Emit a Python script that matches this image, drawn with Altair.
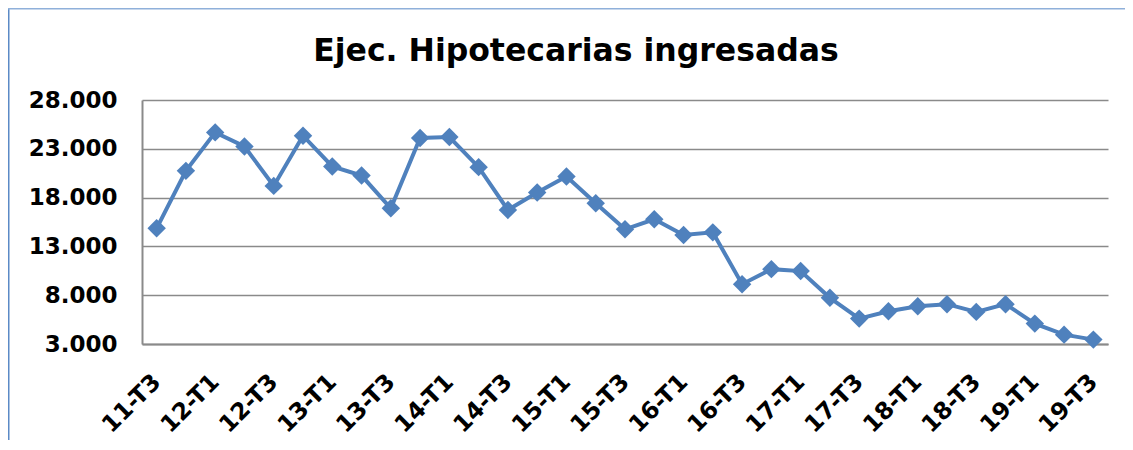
import altair as alt
import pandas as pd

periods = [
    "11-T3", "11-T4",
    "12-T1", "12-T2", "12-T3", "12-T4",
    "13-T1", "13-T2", "13-T3", "13-T4",
    "14-T1", "14-T2", "14-T3", "14-T4",
    "15-T1", "15-T2", "15-T3", "15-T4",
    "16-T1", "16-T2", "16-T3", "16-T4",
    "17-T1", "17-T2", "17-T3", "17-T4",
    "18-T1", "18-T2", "18-T3", "18-T4",
    "19-T1", "19-T2", "19-T3",
]
values = [
    14850, 20740,
    24680, 23240, 19200, 24340,
    21190, 20260, 16910, 24100,
    24200, 21120, 16730, 18520,
    20160, 17420, 14750, 15780,
    14170, 14440, 9130, 10670,
    10470, 7730, 5600, 6360,
    6870, 7080, 6290, 7080,
    5090, 3960, 3450,
]
y_ticks = [3000, 8000, 13000, 18000, 23000, 28000]
x_labels = periods[::2]
title_text = "Ejec. Hipotecarias ingresadas"

BLUE = "#4F81BD"
GRID = "#8a8a8a"
FONT = "DejaVu Sans"

df = pd.DataFrame({"periodo": periods, "valor": values})

line = alt.Chart(df).mark_line(
    color=BLUE, strokeWidth=4,
    point=alt.OverlayMarkDef(shape="diamond", size=340, filled=True,
                             color=BLUE, opacity=1),
).encode(
    x=alt.X("periodo:N", sort=periods,
            scale=alt.Scale(type="point", padding=0.5),
            axis=alt.Axis(title=None, values=x_labels, labelAngle=-45,
                          labelAlign="right", labelBaseline="middle",
                          labelPadding=34, labelFontSize=23.5,
                          labelFontWeight="bold", labelColor="#000000",
                          ticks=False, grid=False, domainColor=GRID,
                          domainWidth=2, labelOverlap=False)),
    y=alt.Y("valor:Q",
            scale=alt.Scale(domain=[3000, 28000], nice=False, zero=False),
            axis=alt.Axis(title=None, values=y_ticks,
                          labelExpr="replace(format(datum.value, ','), ',', '.')",
                          labelPadding=25, labelFontSize=23,
                          labelFontWeight="bold", labelColor="#000000",
                          ticks=False, grid=True, gridColor=GRID,
                          gridWidth=1.5, domainColor=GRID, domainWidth=2)),
)

frame_df = pd.DataFrame({"k": [0]})
frame_left = alt.Chart(frame_df).mark_rule(color="#5b8ac6", strokeWidth=2).encode(
    x=alt.value(-133.5), y=alt.value(-92), y2=alt.value(400))
frame_top = alt.Chart(frame_df).mark_rule(color="#8fb0da", strokeWidth=2).encode(
    x=alt.value(-134), x2=alt.value(1100), y=alt.value(-91.5))

chart = alt.layer(frame_left, frame_top, line).properties(
    width=966, height=244,
    autosize=alt.AutoSizeParams(type="none"),
    padding={"left": 134, "top": 92, "right": 17, "bottom": 96},
    title=alt.TitleParams(title_text, fontSize=31.5, fontWeight="bold",
                          font=FONT, color="#000000", anchor="middle",
                          frame="group", dx=-49, offset=0, dy=85.5,
                          baseline="alphabetic"),
).configure(font=FONT).configure_view(stroke=None)

chart.save("out.html", embed_options={"renderer": "svg", "actions": False})
